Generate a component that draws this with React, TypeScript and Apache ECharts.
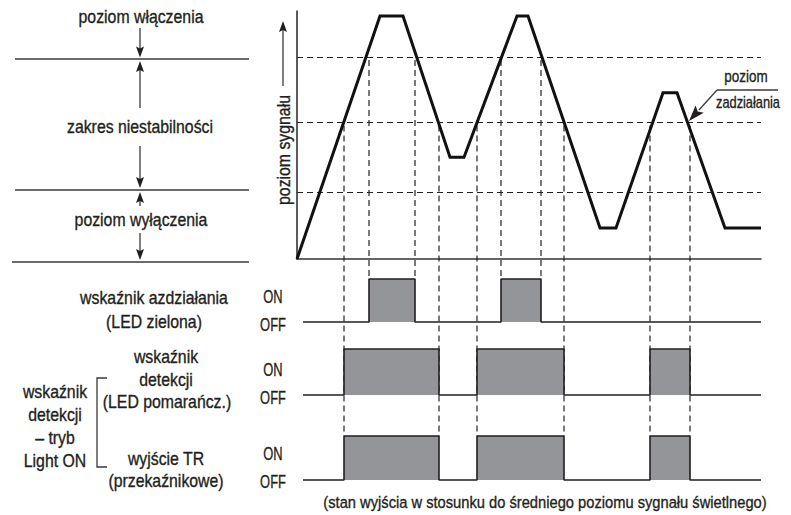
import React, { useEffect, useRef } from "react";
import * as echarts from "echarts";

// ---- data (time units, signal level in %) ----
const tMax = 116;
const signalT = [0, 20.75, 26.5, 38.25, 41.75, 55, 57.75, 75.75, 79.75, 91.5, 95, 107, 116];
const signalV = [0, 98, 98, 41, 41, 98, 98, 12.5, 12.5, 67, 67, 12.5, 12.5];
const levels = [81.5, 55, 27];
const upperCross = [18, 29.5, 51, 61];
const middleCross = [11.75, 35.5, 45, 66.75, 88.25, 98.25];
const rowStart = 1.5;

const rowLabels = [
  ["wskaźnik azdziałania", "(LED zielona)"],
  ["wskaźnik", "detekcji", "(LED pomarańcz.)"],
  ["wyjście TR", "(przekaźnikowe)"],
];
const groupLabel = ["wskaźnik", "detekcji", "– tryb", "Light ON"];
const leftLabels = ["poziom włączenia", "zakres niestabilności", "poziom wyłączenia"];
const caption = "(stan wyjścia w stosunku do średniego poziomu sygnału świetlnego)";

const INK = "#231f20";
const GRAY = "#939598";
const FONT = "'Liberation Sans', Arial, sans-serif";

function pulses(cross: number[]) {
  const pts: number[][] = [[rowStart, 0]];
  for (let i = 0; i + 1 < cross.length; i += 2) {
    pts.push([cross[i], 0], [cross[i], 1], [cross[i + 1], 1], [cross[i + 1], 0]);
  }
  pts.push([tMax, 0]);
  return pts;
}

function txt(text: string, x: number, y: number, size = 18, sx = 0.88, extra: any = {}) {
  return {
    type: "text",
    x,
    y,
    scaleX: sx,
    z: 10,
    ...extra,
    style: {
      text, x: 0, y: 0, align: "center", verticalAlign: "middle",
      fontFamily: FONT, fontSize: size, fill: INK, stroke: INK, lineWidth: 0.35,
    },
  };
}

function vArrow(x: number, from: number, tip: number) {
  const dir = tip > from ? 1 : -1;
  return [
    { type: "line", z: 10, shape: { x1: x, y1: from, x2: x, y2: tip - dir * 7 }, style: { stroke: "#3a3a3a", lineWidth: 1.3 } },
    {
      type: "polygon",
      z: 10,
      shape: { points: [[x, tip], [x - 4, tip - dir * 11], [x, tip - dir * 9], [x + 4, tip - dir * 11]] },
      style: { fill: INK },
    },
  ];
}

function hLine(y: number, x1: number, x2: number) {
  return { type: "line", z: 10, shape: { x1, y1: y, x2, y2: y }, style: { stroke: "#3a3a3a", lineWidth: 1.5 } };
}

export default function App() {
  const ref = useRef<HTMLDivElement>(null);
  useEffect(() => {
    document.body.style.margin = "0";
    const chart = echarts.init(ref.current!, undefined, { renderer: "svg" });
    const hiddenX = (gi: number) => ({
      type: "value", gridIndex: gi, min: 0, max: tMax,
      axisLine: { show: gi === 0, onZero: true, lineStyle: { color: "#333", width: 1.6 } },
      axisTick: { show: false }, axisLabel: { show: false }, splitLine: { show: false },
    });
    const yAx = (gi: number, max: number) => ({
      type: "value", gridIndex: gi, min: 0, max,
      axisLine: { show: gi === 0, lineStyle: { color: "#333", width: 1.6 } },
      axisTick: { show: false }, axisLabel: { show: false }, splitLine: { show: false },
    });
    const rowSeries = (gi: number, cross: number[]) => ({
      type: "line", xAxisIndex: gi, yAxisIndex: gi, data: pulses(cross), symbol: "none", clip: false,
      lineStyle: { color: INK, width: 1.6 }, areaStyle: { color: GRAY, opacity: 1 }, silent: true,
    });
    chart.setOption({
      animation: false,
      grid: [
        { left: 297, top: 11, width: 464, height: 248 },
        { left: 297, top: 279, width: 464, height: 43 },
        { left: 297, top: 349, width: 464, height: 46 },
        { left: 297, top: 436, width: 464, height: 44 },
      ],
      xAxis: [hiddenX(0), hiddenX(1), hiddenX(2), hiddenX(3)],
      yAxis: [yAx(0, 100), yAx(1, 1), yAx(2, 1), yAx(3, 1)],
      series: [
        {
          type: "line", xAxisIndex: 0, yAxisIndex: 0, symbol: "none", silent: true,
          data: signalT.map((t, i) => [t, signalV[i]]),
          lineStyle: { color: "#111", width: 3, join: "miter" },
          z: 5,
          markLine: {
            silent: true, symbol: ["none", "none"], label: { show: false },
            lineStyle: { color: "#222", width: 1.2, type: [6, 4] },
            data: levels.map((l) => ({ yAxis: l })),
          },
        },
        rowSeries(1, upperCross),
        rowSeries(2, middleCross),
        rowSeries(3, middleCross),
      ],
    });

    const px = (t: number) => chart.convertToPixel({ xAxisIndex: 0 }, t) as number;
    const py = (yi: number, v: number) => chart.convertToPixel({ yAxisIndex: yi }, v) as number;
    const dashStyle = { stroke: "#222", lineWidth: 1.2, lineDash: [6, 4] };
    const dashed: any[] = [];
    upperCross.forEach((t) => {
      const x = px(t);
      dashed.push({ type: "line", z: 1, shape: { x1: x, y1: py(0, levels[0]) + 3, x2: x, y2: py(1, 1) }, style: dashStyle });
    });
    middleCross.forEach((t) => {
      const x = px(t);
      dashed.push({ type: "line", z: 1, shape: { x1: x, y1: py(0, levels[1]) + 3, x2: x, y2: py(3, 1) }, style: dashStyle });
    });

    const g: any[] = [
      ...dashed,
      // left level panel
      hLine(59, 15, 249),
      hLine(190, 15, 249),
      hLine(262, 12, 249),
      txt(leftLabels[0], 141, 17),
      txt(leftLabels[1], 140, 127),
      txt(leftLabels[2], 141, 220),
      ...vArrow(140, 28, 57.5),
      ...vArrow(140, 108, 61),
      ...vArrow(140, 146, 188),
      ...vArrow(140, 206, 192),
      ...vArrow(140, 233, 260),
      // y axis title
      txt("poziom sygnału", 284, 150, 18, 0.88, { rotation: Math.PI / 2 }),
      ...vArrow(283, 86, 21),
      // "poziom zadziałania" callout
      txt("poziom", 746, 77, 16, 0.84),
      txt("zadziałania", 748, 102, 16, 0.8),
      { type: "line", z: 10, shape: { x1: 717, y1: 90, x2: 778, y2: 90 }, style: { stroke: "#3a3a3a", lineWidth: 1.3 } },
      { type: "line", z: 10, shape: { x1: 717, y1: 90, x2: 699, y2: 110 }, style: { stroke: "#3a3a3a", lineWidth: 1.3 } },
      { type: "polygon", z: 10, shape: { points: [[689, 121], [703.8, 112.8], [697.7, 111.4], [695.6, 105.4]] }, style: { fill: INK } },
      // row labels
      txt(rowLabels[0][0], 154, 298),
      txt(rowLabels[0][1], 154, 322),
      txt(rowLabels[1][0], 166, 357),
      txt(rowLabels[1][1], 166, 380),
      txt(rowLabels[1][2], 167, 402),
      txt(rowLabels[2][0], 166, 459),
      txt(rowLabels[2][1], 166, 481),
      ...groupLabel.map((s, i) => txt(s, 55, 392 + i * 23)),
      { type: "polyline", z: 10, shape: { points: [[107, 378], [97, 378], [97, 467], [107, 467]] }, style: { stroke: "#3a3a3a", lineWidth: 1.3, fill: "none" } },
      // ON / OFF
      txt("ON", 273, 296, 19, 0.68),
      txt("OFF", 273, 324, 19, 0.68),
      txt("ON", 273, 369, 19, 0.68),
      txt("OFF", 273, 397, 19, 0.68),
      txt("ON", 273, 453, 19, 0.68),
      txt("OFF", 273, 481, 19, 0.68),
      txt(caption, 545, 502, 17, 0.865),
    ];
    chart.setOption({ graphic: g });
    return () => chart.dispose();
  }, []);
  return <div ref={ref} style={{ width: 791, height: 515 }} />;
}
